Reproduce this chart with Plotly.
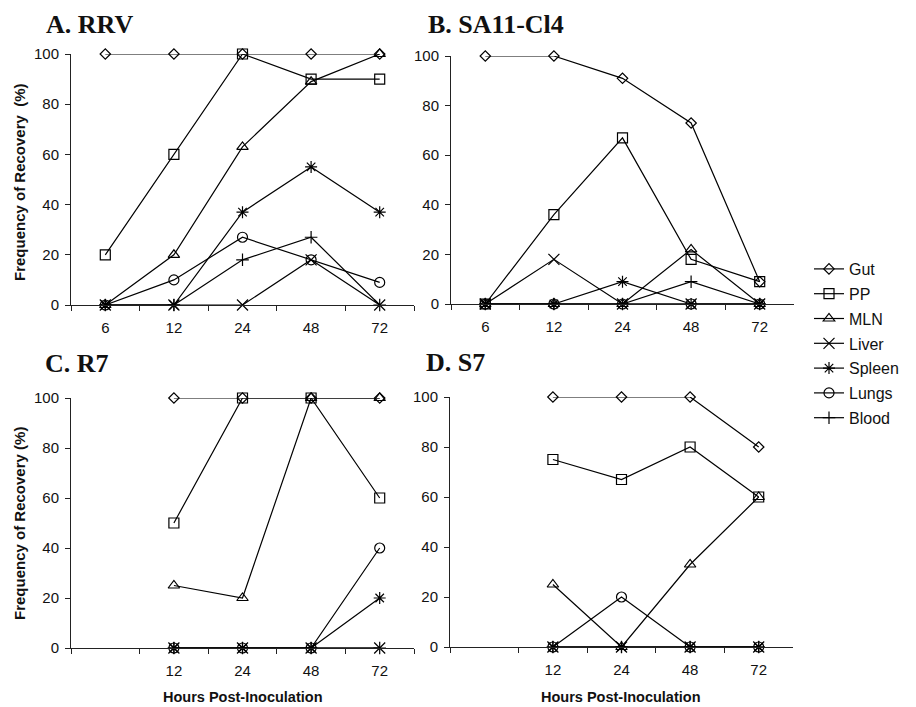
import plotly.graph_objects as go

# ---------------- data ----------------
HOURS = ["6", "12", "24", "48", "72"]
SERIES = ["Gut", "PP", "MLN", "Liver", "Spleen", "Lungs", "Blood"]

RRV = {
    "Gut":    [100, 100, 100, 100, 100],
    "PP":     [20, 60, 100, 90, 90],
    "MLN":    [0, 20, 63, 89, 100],
    "Liver":  [0, 0, 0, 18, 0],
    "Spleen": [0, 0, 37, 55, 37],
    "Lungs":  [0, 10, 27, 18, 9],
    "Blood":  [0, 0, 18, 27, 0],
}
SA11 = {
    "Gut":    [100, 100, 91, 73, 9],
    "PP":     [0, 36, 67, 18, 9],
    "MLN":    [0, 0, 0, 22, 0],
    "Liver":  [0, 18, 0, 0, 0],
    "Spleen": [0, 0, 9, 0, 0],
    "Lungs":  [0, 0, 0, 0, 0],
    "Blood":  [0, 0, 0, 9, 0],
}
R7 = {
    "Gut":    [None, 100, 100, 100, 100],
    "PP":     [None, 50, 100, 100, 60],
    "MLN":    [None, 25, 20, 100, 100],
    "Liver":  [None, 0, 0, 0, 0],
    "Spleen": [None, 0, 0, 0, 20],
    "Lungs":  [None, 0, 0, 0, 40],
    "Blood":  [None, 0, 0, 0, 0],
}
S7 = {
    "Gut":    [None, 100, 100, 100, 80],
    "PP":     [None, 75, 67, 80, 60],
    "MLN":    [None, 25, 0, 33, 60],
    "Liver":  [None, 0, 0, 0, 0],
    "Spleen": [None, 0, 0, 0, 0],
    "Lungs":  [None, 0, 20, 0, 0],
    "Blood":  [None, 0, 0, 0, 0],
}
PANEL_TITLES = ["A. RRV", "B. SA11-Cl4", "C. R7", "D. S7"]
Y_TITLES = ["Frequency of Recovery  (%)", "Frequency of Recovery (%)"]
X_TITLE = "Hours Post-Inoculation"

# ---------------- styles ----------------
SYMBOLS = {
    "Gut": ("diamond-open", 8),
    "PP": ("square-open", 10),
    "MLN": ("triangle-up-open", 10),
    "Liver": ("x-thin-open", 11),
    "Spleen": ("asterisk-open", 10),
    "Lungs": ("circle-open", 10),
    "Blood": ("cross-thin-open", 9),
}
SANS = "Liberation Sans, Arial, sans-serif"
SERIF = "Liberation Serif, Times New Roman, serif"
W, H = 916, 707
OFF = 8  # page body margin


def px(x):
    return (x - OFF) / W


def py(y):
    return 1 - (y - OFF) / H


BOXES = [(71, 414, 54, 305), (451, 794, 56, 304), (71, 414, 398, 648), (450, 793, 397, 647)]

fig = go.Figure()
panels = [RRV, SA11, R7, S7]
for i, (data, box) in enumerate(zip(panels, BOXES)):
    ax = "" if i == 0 else str(i + 1)
    for name in SERIES:
        sym, size = SYMBOLS[name]
        fig.add_trace(go.Scatter(
            x=HOURS, y=data[name], name=name, mode="lines+markers",
            xaxis="x" + ax, yaxis="y" + ax,
            line=dict(color="black", width=1.2),
            marker=dict(symbol=sym, size=size, color="black",
                        line=dict(color="black", width=1.2)),
            connectgaps=False, legendgroup=name, showlegend=(i == 0),
            cliponaxis=False,
        ))
    l, r, t, b = box
    ticktext = HOURS if i < 2 else [""] + HOURS[1:]
    xa = dict(domain=[px(l), px(r)], anchor="y" + ax, type="category",
              categoryorder="array", categoryarray=HOURS, range=[-0.5, 4.5],
              tickmode="array", tickvals=HOURS, ticktext=ticktext,
              tickson="boundaries", ticks="outside", ticklen=5, tickcolor="#222",
              showline=True, linecolor="#222", linewidth=1, showgrid=False,
              zeroline=False, ticklabelstandoff=9,
              tickfont=dict(family=SANS, size=15, color="#111"), fixedrange=True)
    ya = dict(domain=[py(b), py(t)], anchor="x" + ax, range=[0, 100],
              tickvals=[0, 20, 40, 60, 80, 100], ticks="outside", ticklen=5,
              tickcolor="#222", showline=True, linecolor="#222", linewidth=1,
              showgrid=False, zeroline=False, ticklabelstandoff=3,
              tickfont=dict(family=SANS, size=15, color="#111"), fixedrange=True)
    fig.update_layout(**{"xaxis" + ax: xa, "yaxis" + ax: ya})

annotations = []
title_pos = [(45, 24), (427, 24), (44, 364), (425, 362)]
for txt, (x, y) in zip(PANEL_TITLES, title_pos):
    annotations.append(dict(text="<b>" + txt + "</b>", x=px(x), y=py(y),
                            xref="paper", yref="paper", xanchor="left", yanchor="middle",
                            showarrow=False, borderpad=0,
                            font=dict(family=SERIF, size=26, color="#111")))
for txt, y in zip(Y_TITLES, [182, 524]):
    annotations.append(dict(text="<b>" + txt + "</b>", x=px(19), y=py(y),
                            xref="paper", yref="paper", xanchor="center", yanchor="middle",
                            textangle=-90, showarrow=False,
                            font=dict(family=SANS, size=15, color="#111")))
for x in [243, 621]:
    annotations.append(dict(text="<b>" + X_TITLE + "</b>", x=px(x), y=py(697),
                            xref="paper", yref="paper", xanchor="center", yanchor="middle",
                            showarrow=False, font=dict(family=SANS, size=14.5, color="#111")))

fig.update_layout(
    width=W, height=H, margin=dict(l=0, r=0, t=0, b=0, autoexpand=False),
    paper_bgcolor="white", plot_bgcolor="white",
    annotations=annotations,
    showlegend=True,
    legend=dict(x=px(809), y=py(252), xanchor="left", yanchor="top",
                font=dict(family=SANS, size=16, color="#111"),
                bgcolor="rgba(0,0,0,0)", tracegroupgap=1, itemwidth=30),
)

fig.write_html("out.html")
